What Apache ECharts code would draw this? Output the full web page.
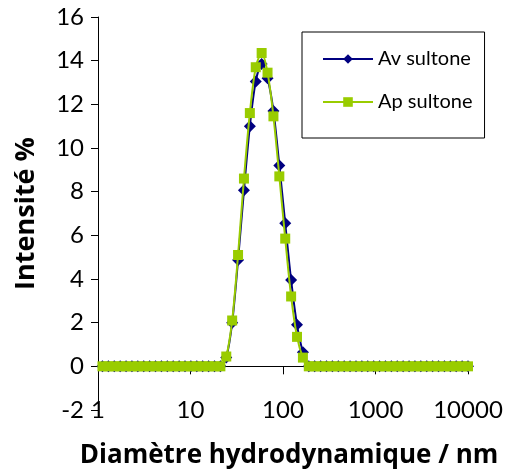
<!DOCTYPE html>
<html>
<head>
<meta charset="utf-8">
<script src="https://cdn.jsdelivr.net/npm/echarts@6/dist/echarts.min.js"></script>
<style>
html,body{margin:0;padding:0;background:#fff;}
#c{width:506px;height:473px;}
</style>
</head>
<body>
<div id="c"></div>
<script>
// Hydrodynamic diameter bins (nm)
const diameters = [1.117, 1.294, 1.499, 1.736, 2.01, 2.328, 2.696, 3.122, 3.615, 4.187, 4.849, 5.615, 6.503, 7.531, 8.721, 10.1, 11.7, 13.54, 15.69, 18.17, 21.04, 24.36, 28.21, 32.67, 37.84, 43.82, 50.75, 58.77, 68.06, 78.82, 91.28, 105.7, 122.4, 141.8, 164.2, 190.1, 220.2, 255, 295.3, 342, 396.1, 458.7, 531.2, 615.1, 712.4, 825, 955.4, 1106, 1281, 1484, 1718, 1990, 2305, 2669, 3091, 3580, 4145, 4801, 5560, 6439, 7456, 8635, 10000];
// Intensity (%) - before sultone
const avSultone = [0,0,0,0,0,0,0,0,0,0,0,0,0,0,0,0,0,0,0,0,0, 0.4, 2.0, 4.87, 8.06, 11.0, 13.05, 13.85, 13.2, 11.7, 9.2, 6.55, 3.95, 1.9, 0.65, 0,0,0,0,0,0,0,0,0,0,0,0,0,0,0,0,0,0,0,0,0,0,0,0,0,0,0,0];
// Intensity (%) - after sultone
const apSultone = [0,0,0,0,0,0,0,0,0,0,0,0,0,0,0,0,0,0,0,0,0, 0.45, 2.1, 5.1, 8.6, 11.6, 13.7, 14.35, 13.45, 11.45, 8.7, 5.85, 3.2, 1.35, 0.4, 0,0,0,0,0,0,0,0,0,0,0,0,0,0,0,0,0,0,0,0,0,0,0,0,0,0,0,0];
const seriesNames = ['Av sultone', 'Ap sultone'];
const xTickLabels = {1:'1', 10:'10', 100:'100', 1000:'1000', 10000:'10000'};
const yTicks = {min: -2, max: 16, interval: 2};

const pairs = arr => diameters.map((d, i) => [d, arr[i]]);
const font = 'Lato, "Open Sans", sans-serif';
const titleFont = '"Open Sans", Lato, sans-serif';

const chart = echarts.init(document.getElementById('c'), null, {renderer: 'canvas'});
chart.setOption({
  animation: false,
  backgroundColor: '#ffffff',
  grid: {left: 98, right: 38, top: 17, bottom: 63, containLabel: false, outerBoundsMode: 'none'},
  legend: {
    orient: 'vertical',
    left: 302, top: 32,
    padding: [17, 12, 26, 20],
    itemGap: 23,
    itemWidth: 50, itemHeight: 12,
    borderColor: '#000', borderWidth: 1,
    textStyle: {fontFamily: font, fontSize: 20, color: '#000'},
    data: seriesNames
  },
  xAxis: {
    type: 'log', logBase: 10, min: 1, max: 10000,
    axisLine: {onZero: true, lineStyle: {color: '#000', width: 1}},
    axisTick: {show: true, length: 8, lineStyle: {color: '#000'}},
    minorTick: {show: false},
    splitLine: {show: false},
    axisLabel: {
      margin: 0, verticalAlign: 'middle', fontFamily: font, fontSize: 24, color: '#000',
      formatter: v => xTickLabels[Math.round(v)] || ''
    },
    name: 'Diamètre hydrodynamique / nm',
    nameLocation: 'middle', nameGap: 33,
    nameTextStyle: {fontFamily: titleFont, fontSize: 26, fontWeight: 'bold', color: '#000', padding: [0, 0, 0, 12]}
  },
  yAxis: {
    type: 'value', min: yTicks.min, max: yTicks.max, interval: yTicks.interval,
    axisLine: {show: true, lineStyle: {color: '#000', width: 1}},
    axisTick: {show: true, length: 7, lineStyle: {color: '#000'}},
    splitLine: {show: false},
    axisLabel: {margin: 14, fontFamily: font, fontSize: 24, color: '#000'},
    name: 'Intensité %',
    nameLocation: 'middle', nameGap: 58,
    nameTextStyle: {fontFamily: titleFont, fontSize: 27, fontWeight: 'bold', color: '#000'}
  },
  series: [
    {
      name: seriesNames[0], type: 'line', data: pairs(avSultone),
      smooth: 0.3,
      symbol: 'diamond', symbolSize: 12,
      lineStyle: {color: '#000080', width: 2},
      itemStyle: {color: '#000080'},
      z: 2
    },
    {
      name: seriesNames[1], type: 'line', data: pairs(apSultone),
      smooth: 0.3,
      symbol: 'rect', symbolSize: 10,
      lineStyle: {color: '#99CC00', width: 2},
      itemStyle: {color: '#99CC00'},
      z: 3
    }
  ]
});
</script>
</body>
</html>
